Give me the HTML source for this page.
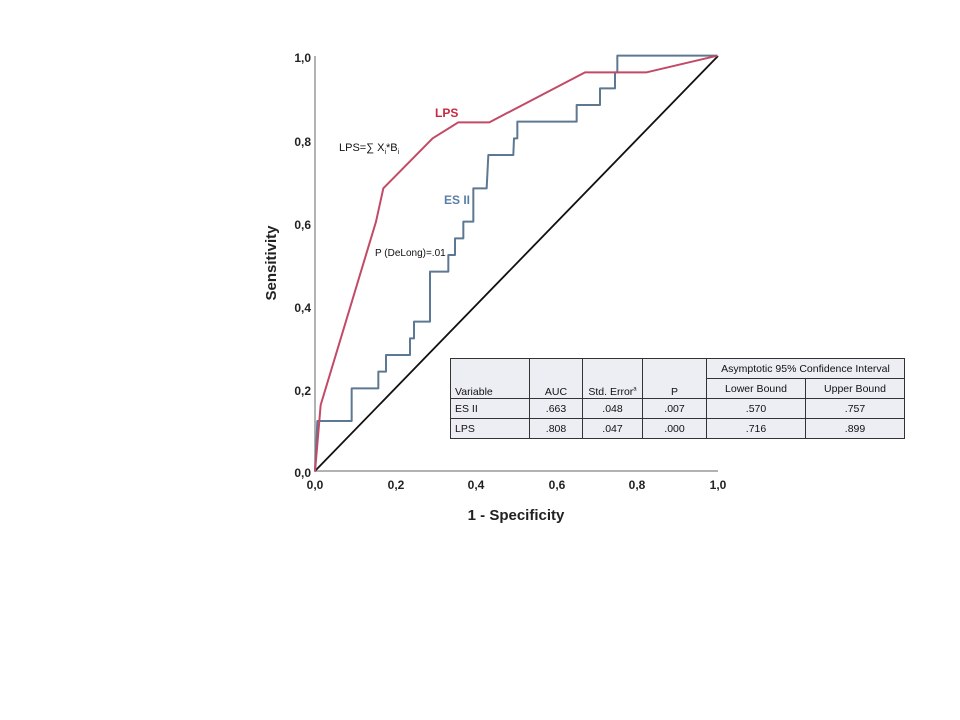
<!DOCTYPE html>
<html><head><style>
body{margin:0;background:#fff;width:960px;height:720px;overflow:hidden;position:relative;font-family:"Liberation Sans",sans-serif}
table{position:absolute;left:450px;top:358px;border-collapse:collapse;background:#eceef4;font-family:"Liberation Sans",sans-serif;font-size:10.5px;color:#111}
td{border:1px solid #333;padding:0 4px;height:19px;text-align:center}
</style></head><body>
<svg width="960" height="720" style="position:absolute;left:0;top:0">
<g font-family="Liberation Sans, sans-serif" font-weight="bold" font-size="12" fill="#222">
<line x1="315" y1="56" x2="315" y2="471" stroke="#999" stroke-width="1.5"/>
<line x1="315" y1="471" x2="718" y2="471" stroke="#999" stroke-width="1.5"/>
<text x="311" y="62" text-anchor="end">1,0</text>
<text x="311" y="146" text-anchor="end">0,8</text>
<text x="311" y="229" text-anchor="end">0,6</text>
<text x="311" y="312" text-anchor="end">0,4</text>
<text x="311" y="395" text-anchor="end">0,2</text>
<text x="311" y="477" text-anchor="end">0,0</text>
<text x="315" y="489" text-anchor="middle">0,0</text>
<text x="396" y="489" text-anchor="middle">0,2</text>
<text x="476" y="489" text-anchor="middle">0,4</text>
<text x="557" y="489" text-anchor="middle">0,6</text>
<text x="637" y="489" text-anchor="middle">0,8</text>
<text x="718" y="489" text-anchor="middle">1,0</text>
<text x="516" y="520" text-anchor="middle" font-size="15">1 - Specificity</text>
<text transform="translate(276 263) rotate(-90)" text-anchor="middle" font-size="15">Sensitivity</text>
</g>
<line x1="315" y1="471" x2="718" y2="56" stroke="#111" stroke-width="1.8"/>
<g transform="translate(300 40) scale(0.33333)" fill="none" stroke-width="6" stroke-linejoin="round">
<polyline stroke="#5d7892" points="45,1295 52,1143 155,1143 155,1045 235,1045 235,995 258,995 258,945 330,945 330,895 342,895 342,845 390,845 390,695 445,695 445,645 465,645 465,595 490,595 490,545 520,545 520,445 560,445 565,345 640,345 642,295 652,295 652,245 830,245 830,195 900,195 900,145 945,145 945,97 952,97 952,47 1252,47"/>
<polyline stroke="#c24a66" points="45,1295 62,1095 228,545 250,445 398,295 475,247 568,247 855,97 1040,97 1252,47"/>
</g>
<g font-family="Liberation Sans, sans-serif" font-weight="bold" font-size="11">
<text x="435" y="117" fill="#c8283c" font-size="12">LPS</text>
<text x="444" y="204" fill="#5b7fa8" font-size="12">ES II</text>
<text x="339" y="151" fill="#111" font-weight="normal" font-size="11">LPS=∑ X<tspan font-size="7" dy="3">i</tspan><tspan dy="-3">*B</tspan><tspan font-size="7" dy="3">i</tspan></text>
<text x="375" y="256" fill="#111" font-weight="normal" font-size="10">P (DeLong)=.01</text>
</g>
</svg>
<table>
<tr><td rowspan="2" style="width:70px;text-align:left;vertical-align:bottom;height:38px">Variable</td><td rowspan="2" style="width:44px;vertical-align:bottom">AUC</td><td rowspan="2" style="width:51px;vertical-align:bottom">Std. Error<sup style="font-size:6px">a</sup></td><td rowspan="2" style="width:55px;vertical-align:bottom">P</td><td colspan="2">Asymptotic 95% Confidence Interval</td></tr>
<tr><td style="width:90px">Lower Bound</td><td style="width:90px">Upper Bound</td></tr>
<tr><td style="text-align:left">ES II</td><td>.663</td><td>.048</td><td>.007</td><td>.570</td><td>.757</td></tr>
<tr><td style="text-align:left">LPS</td><td>.808</td><td>.047</td><td>.000</td><td>.716</td><td>.899</td></tr>
</table>
</body></html>
